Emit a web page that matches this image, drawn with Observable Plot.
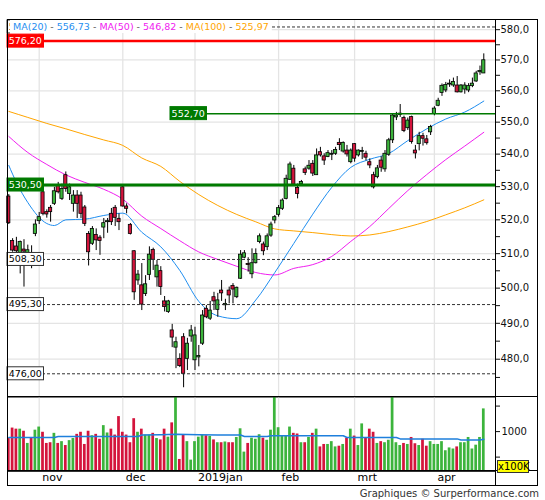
<!DOCTYPE html>
<html><head><meta charset="utf-8">
<script src="https://cdn.jsdelivr.net/npm/d3@7"></script>
<script src="https://cdn.jsdelivr.net/npm/@observablehq/plot@0.6"></script>
<style>
body{margin:0;background:#fff;}
#wrap{position:relative;width:545px;height:500px;overflow:hidden;font-family:"DejaVu Sans",sans-serif;}
#wrap svg{position:absolute;left:0;overflow:visible;}
.ln{position:absolute;background:#000;pointer-events:none;}
</style></head>
<body><div id="wrap"></div>
<script>
// ---- data ----
const opens = [
527.0,513.7,512.1,507.0,511.2,509.5,508.5,515.8,519.6,528.3,
522.3,523.6,524.8,530.3,526.3,533.5,527.8,524.8,527.3,527.3,
523.7,515.8,512.9,515.5,514.7,517.7,519.3,521.8,523.6,520.3,
529.8,524.0,518.5,510.7,502.2,500.8,498.3,503.8,511.1,503.1,
504.9,496.2,493.2,488.0,483.2,480.1,486.1,480.1,486.3,479.7,
480.5,484.3,494.1,491.3,497.4,493.8,499.3,495.1,499.3,500.6,
497.4,502.7,508.8,507.0,504.0,507.2,513.4,512.7,511.9,515.3,
519.8,521.5,523.3,526.3,532.1,535.5,529.6,530.7,535.3,535.5,
537.0,533.5,540.6,539.3,539.1,539.8,540.1,543.5,540.8,541.1,
537.5,543.1,539.6,540.7,540.1,537.5,533.5,532.9,538.0,535.3,
539.8,544.3,551.5,552.3,551.3,548.1,551.6,541.1,543.1,545.6,
544.6,546.8,552.6,555.2,559.3,560.1,562.0,561.7,561.7,559.5,
560.4,560.1,561.5,563.0,566.0,565.6];
const closes = [
519.0,510.9,510.7,513.4,510.6,511.0,508.0,518.6,520.8,521.8,
521.6,522.3,528.6,528.3,529.3,529.3,529.8,527.3,524.8,521.8,
518.8,510.4,517.3,513.9,513.7,519.0,519.6,519.3,520.6,519.3,
524.0,523.3,515.8,498.8,503.9,495.3,501.1,509.7,508.2,506.5,
500.3,494.6,496.2,486.0,484.7,478.1,476.0,484.3,488.0,486.6,
480.9,492.2,491.7,493.6,496.2,496.5,498.5,495.5,497.9,499.6,
500.1,509.7,510.1,506.7,507.2,509.9,515.1,510.7,515.1,518.6,
520.8,523.5,525.8,532.4,536.8,530.6,527.8,531.4,534.2,536.4,
534.0,539.6,539.6,538.0,540.3,540.1,541.3,542.8,543.5,539.9,
541.1,538.6,541.1,541.0,538.9,536.5,529.8,535.6,535.8,540.1,
544.3,552.1,552.1,552.7,547.2,550.5,543.8,540.2,545.6,544.8,
543.4,548.5,554.3,556.8,561.6,561.9,562.3,562.8,559.5,561.7,
561.7,561.5,562.3,565.6,566.4,569.9];
const highs = [
527.6,514.4,514.8,513.7,514.1,512.5,512.3,520.0,522.2,529.1,
523.0,524.3,529.8,531.3,530.8,534.5,530.8,528.8,528.8,528.3,
524.3,516.5,518.0,517.3,515.3,520.4,520.4,523.4,524.3,521.8,
530.3,524.8,518.9,510.9,505.1,507.1,503.6,512.0,511.6,508.0,
506.2,497.6,496.5,489.7,486.1,481.5,487.1,485.8,489.4,488.9,
483.8,493.6,495.0,496.2,498.8,498.5,502.2,496.8,500.3,501.3,
500.3,510.9,510.9,508.8,511.4,511.4,515.8,513.4,515.8,519.3,
521.3,524.3,526.3,533.5,537.5,536.5,530.8,531.9,536.0,538.0,
538.0,541.6,542.1,540.1,541.1,541.1,542.1,544.8,543.8,542.7,
541.6,543.3,541.3,542.1,540.9,538.5,534.4,536.5,539.2,541.1,
544.9,552.6,553.1,555.6,551.9,551.3,551.9,542.7,546.8,546.5,
545.8,549.0,554.9,557.6,562.2,562.7,563.5,564.1,564.6,562.0,
562.6,562.3,564.1,566.3,568.0,572.0];
const lows = [
518.6,510.4,510.1,504.1,500.3,507.5,505.6,515.0,518.6,521.2,
520.5,519.3,524.3,527.8,525.8,528.3,525.8,522.3,520.4,520.4,
518.0,506.4,512.4,510.9,509.5,514.4,516.0,518.3,518.0,516.8,
523.8,521.8,515.5,496.5,500.8,493.6,497.6,502.2,505.1,500.3,
497.9,493.2,492.8,483.2,477.4,477.7,472.2,476.9,484.7,476.9,
477.9,483.8,491.3,490.8,493.6,491.7,496.2,493.6,495.5,495.5,
497.0,502.5,508.5,504.6,502.7,507.0,512.9,509.4,510.9,514.8,
518.8,520.8,522.8,526.0,531.9,530.4,526.3,530.4,533.4,535.0,
533.1,533.5,539.1,536.5,538.9,538.0,539.6,541.1,540.3,539.1,
537.0,537.5,539.1,538.3,537.9,535.5,529.3,532.4,534.4,534.4,
539.3,543.3,550.5,551.5,546.7,547.4,543.1,538.5,541.0,542.5,
542.8,545.8,552.0,554.9,558.2,559.4,561.1,561.1,559.3,559.3,
558.9,559.4,561.0,562.7,565.0,565.6];
const volumes = [
864,1069,1048,1048,1007,768,871,1028,1089,987,
768,782,966,768,803,727,823,864,946,987,
748,1007,919,946,850,1117,973,1048,932,1294,
987,932,782,1253,987,1048,932,932,966,864,
837,1048,891,1171,1670,454,932,803,441,803,
891,932,919,905,837,782,782,796,782,782,
885,1055,598,768,871,850,939,871,830,1028,
1670,1076,919,919,1089,966,953,782,782,885,
966,1048,700,748,748,803,700,714,748,871,
1048,912,727,1151,871,1048,987,768,803,782,
830,1740,782,727,768,748,885,762,727,850,
714,803,748,748,803,625,680,659,700,782,
782,885,659,734,885,1445];

const maIdx = [0,5,10,15,20,25,30,35,40,45,50,55,60,65,70,75,80,85,90,95,100,105,110,115,120,125];
const ma20Idx = [0,2,5,10,12,15,20,25,30,35,40,45,50,55,60,65,70,75,80,85,90,95,100,105,110,115,120,125];
const ma20Val = [536.5,531.3,525.2,518.9,518.3,520.0,520.2,521.3,522.0,516.3,512.0,505.1,496.2,492.1,491.3,496.6,504.5,513.0,521.7,529.8,535.9,538.4,540.2,544.2,547.9,551.0,553.2,556.7];
const ma50Val = [545.5,540.5,536.8,533.6,531.3,529.2,526.2,521.1,517.4,513.8,510.5,508.3,506.3,504.5,503.8,505.7,506.8,509.2,513.6,518.0,523.4,528.8,533.7,538.3,542.5,546.8];
const ma100Val = [553.4,551.5,549.6,547.9,546.1,544.4,542.7,538.8,536.2,531.6,527.6,524.3,521.6,519.4,517.3,516.7,516.2,515.6,515.2,515.5,516.5,517.9,519.5,521.5,523.6,526.0];
const volMaIdx = [0,12,13,34,35,40,44,50,55,61,62,68,69,88,89,102,103,118,119,124,125];
const volMaVal = [885,885,905,905,932,939,946,939,932,932,905,905,919,919,885,885,857,857,837,837,850];

const priceTicks = [480,490,500,510,520,530,540,550,560,570,580];
const priceMinor = [475,485,495,505,515,525,535,545,555,565,575];
const volTicks = [500,1000,1500];
const monthIdx = [8,30,49,71,91,112];
const monthLabels = ["nov","dec","2019jan","feb","mrt","apr"];

const levelVals   = [580.9, 576.2, 552.7, 530.5, 508.3, 495.3, 476.0];
const levelLabels = ["580,90","576,20","552,70","530,50","508,30","495,30","476,00"];
const levelKinds  = ["dash","red","green","greenBold","dash","dash","dash"];
const levelStarts = [-0.342,-0.342,42.55,-0.342,-0.342,-0.342,-0.342];

const legendNames  = ["MA(20)","MA(50)","MA(100)"];
const legendValues = ["556,73","546,82","525,97"];

// ---- styles ----
const GREEN = "#3cb43c", RED = "#d4143c";
const C20 = "#1f8ef0", C50 = "#f020f0", C100 = "#ffa500";
const legendColors = [C20, C50, C100];
const kindStyle = {
  dash:      {stroke:"#333", width:1,   dash:"3,2", bg:"#fff",    fg:"#000", border:"#333"},
  red:       {stroke:"#ff0000", width:2.5, dash:null, bg:"#ff0000", fg:"#fff", border:"#ff0000"},
  green:     {stroke:"#007a00", width:1.5, dash:null, bg:"#007a00", fg:"#fff", border:"#007a00"},
  greenBold: {stroke:"#007a00", width:3,   dash:null, bg:"#007a00", fg:"#fff", border:"#007a00"}
};

const xDomain = [-0.342, 128.08];
const yDomain = [469.75, 583.4];
const volDomain = [222, 1682];

const candles = opens.map((o,i)=>({i, open:o, high:highs[i], low:lows[i], close:closes[i], vol:volumes[i]}));
const up = candles.filter(d=>d.close>=d.open), down = candles.filter(d=>d.close<d.open);
const ma20 = ma20Idx.map((i,k)=>({i, v:ma20Val[k]}));
const ma50 = maIdx.map((i,k)=>({i, v:ma50Val[k]}));
const ma100 = maIdx.map((i,k)=>({i, v:ma100Val[k]}));
const volMa = volMaIdx.map((i,k)=>({i, v:volMaVal[k]}));
const months = monthIdx.map((i,k)=>({i, label:monthLabels[k]}));
const levels = levelVals.map((v,k)=>({v, start:levelStarts[k], s:kindStyle[levelKinds[k]], label:levelLabels[k]}));

const baseStyle = {background:"transparent", fontFamily:"DejaVu Sans", fontSize:"10px", color:"#111", overflow:"visible"};

const price = Plot.plot({
  width:545, height:397, marginLeft:7, marginRight:50, marginTop:19, marginBottom:0.7,
  x:{domain:xDomain, axis:null},
  y:{type:"log", domain:yDomain},
  style: baseStyle,
  marks:[
    Plot.ruleY(priceTicks, {stroke:"#e4e4e4", strokeWidth:1.3}),
    Plot.ruleX(monthIdx, {stroke:"#e4e4e4", strokeWidth:1.3}),
    Plot.line(ma100, {x:"i", y:"v", stroke:C100, strokeWidth:1, curve:"monotone-x"}),
    Plot.line(ma50, {x:"i", y:"v", stroke:C50, strokeWidth:1, curve:"monotone-x"}),
    Plot.line(ma20, {x:"i", y:"v", stroke:C20, strokeWidth:1, curve:"monotone-x"}),
    Plot.ruleX(candles, {x:"i", y1:"low", y2:"high", stroke:"#000", strokeWidth:1}),
    Plot.rect(up, {x1:d=>d.i-0.42, x2:d=>d.i+0.42, y1:"open", y2:"close", fill:GREEN, stroke:"#000", strokeWidth:0.8}),
    Plot.rect(down, {x1:d=>d.i-0.42, x2:d=>d.i+0.42, y1:"open", y2:"close", fill:RED, stroke:"#000", strokeWidth:0.8}),
    ...levels.map(l => Plot.ruleY([l.v], {x1:l.start, x2:xDomain[1], stroke:l.s.stroke, strokeWidth:l.s.width, strokeDasharray:l.s.dash})),
    Plot.axisY({ticks:priceTicks, anchor:"right", tickSize:4, tickPadding:1, label:null,
      tickFormat:d=>d.toFixed(1).replace(".", ","), fontSize:10, fill:"#111"}),
    Plot.axisY({ticks:priceMinor, anchor:"right", tickSize:4, label:null, tickFormat:()=>""}),
    Plot.frame({stroke:"#000"})
  ]
});
price.style.top = "0px";

const vol = Plot.plot({
  width:545, height:104, marginLeft:7, marginRight:50, marginTop:0.3, marginBottom:29.2,
  x:{domain:xDomain, axis:null},
  y:{domain:volDomain},
  style: baseStyle,
  marks:[
    Plot.ruleX(monthIdx, {stroke:"#e4e4e4", strokeWidth:1.3}),
    Plot.rect(up, {x1:d=>d.i-0.36, x2:d=>d.i+0.36, y1:()=>volDomain[0], y2:"vol", fill:GREEN, clip:true}),
    Plot.rect(down, {x1:d=>d.i-0.36, x2:d=>d.i+0.36, y1:()=>volDomain[0], y2:"vol", fill:RED, clip:true}),
    Plot.line(volMa, {x:"i", y:"v", stroke:"#1e7fdc", strokeWidth:1.5}),
    Plot.axisY({ticks:volTicks, anchor:"right", tickSize:4, tickPadding:2, label:null,
      tickFormat:d=> d===1000 ? "1000" : "", fontSize:10, fill:"#111"}),
    Plot.text(months, {x:"i", text:"label", frameAnchor:"bottom", lineAnchor:"top", dy:2, dx:3,
      textAnchor:"start", fontSize:11, fill:"#000"}),
    Plot.frame({stroke:"#000"})
  ]
});
vol.style.top = "396px";

const wrap = document.getElementById("wrap");
wrap.appendChild(price);
wrap.appendChild(vol);

// level label boxes and legend, positioned with the plot's own scales (after insertion in the DOM)
{
  const sx = price.scale("x"), sy = price.scale("y");
  const svg = d3.select(price);
  const defs = svg.append("defs");
  defs.append("clipPath").attr("id","legclip").append("rect")
    .attr("x",0).attr("y",0).attr("width",10).attr("height",40);
  const g = svg.append("g").attr("font-family","DejaVu Sans").attr("font-size",9.5);
  levels.forEach((l,k)=>{
    const y = sy.apply(l.v), x0 = sx.apply(l.start);
    const hidden = k === 0; // box mostly hidden under the legend
    const gg = hidden ? g.append("g").attr("clip-path","url(#legclip)") : g;
    gg.append("rect").attr("x",x0).attr("y",y-6.5).attr("width",36.5).attr("height",13)
      .attr("fill",l.s.bg).attr("stroke",l.s.border).attr("stroke-width",1);
    gg.append("text").attr("x",x0+18.25).attr("y",y).attr("dy","0.36em").attr("text-anchor","middle")
      .attr("fill",l.s.fg).text(l.label);
  });
  const leg = svg.append("g");
  const bg = leg.append("rect").attr("x",10).attr("y",20).attr("height",13).attr("fill","#fff");
  const t = leg.append("text").attr("x",13).attr("y",30.3).attr("font-family","DejaVu Sans")
    .attr("text-anchor","start").attr("font-size",9.5).style("white-space","pre");
  legendNames.forEach((n,k)=>{
    if (k>0) t.append("tspan").attr("fill","#555").text(" - ");
    t.append("tspan").attr("fill",legendColors[k]).text(n);
    t.append("tspan").attr("fill","#555").text(" - ");
    t.append("tspan").attr("fill",legendColors[k]).text(legendValues[k]);
  });
  const len = t.node().getComputedTextLength() || 252;
  bg.attr("width", len + 6);
}

function line(l,t,w,h){const d=document.createElement("div");d.className="ln";
  Object.assign(d.style,{left:l+"px",top:t+"px",width:w+"px",height:h+"px"});wrap.appendChild(d);}
// outer frame and separators
line(7,19,531,1); line(7,485,531,1); line(7,19,1,467); line(537,19,1,467);
line(495,19,1,467); line(7,396,531,1); line(7,470,531,1);

const unit = document.createElement("div");
Object.assign(unit.style,{position:"absolute",left:"497px",top:"460px",width:"32px",height:"13px",
  background:"#ffff00",border:"1px solid #333",boxSizing:"border-box",fontSize:"10px",lineHeight:"11px",
  textAlign:"center",color:"#000",fontFamily:"DejaVu Sans"});
unit.textContent = "x100K";
wrap.appendChild(unit);

const cap = document.createElement("div");
Object.assign(cap.style,{position:"absolute",right:"6px",top:"488px",fontSize:"10px",color:"#333",
  fontFamily:"DejaVu Sans",whiteSpace:"nowrap"});
cap.textContent = "Graphiques © Surperformance.com";
wrap.appendChild(cap);
</script>
</body></html>
